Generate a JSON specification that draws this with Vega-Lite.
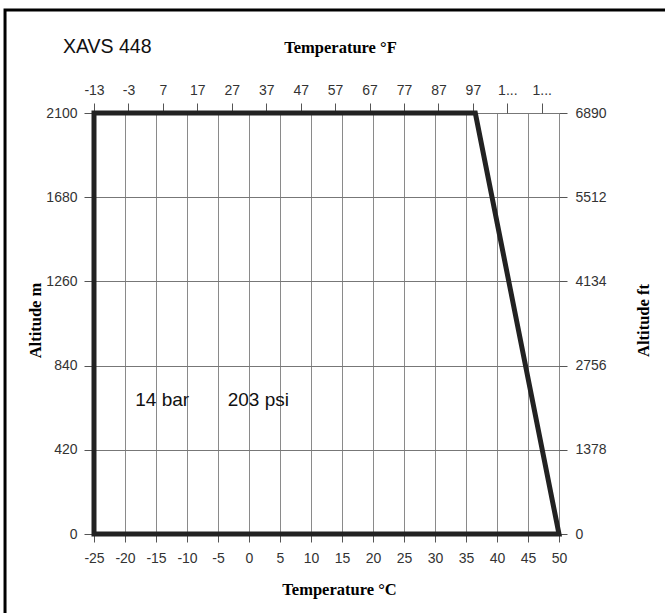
{
  "$schema": "https://vega.github.io/schema/vega-lite/v6.json",
  "autosize": {"type": "none"},
  "width": 465,
  "height": 421,
  "padding": {"left": 94, "top": 113, "right": 106, "bottom": 79},
  "background": "white",
  "title": {
    "text": "XAVS 448",
    "anchor": "start",
    "frame": "group",
    "font": "Liberation Sans",
    "fontSize": 19.5,
    "fontWeight": "normal",
    "color": "#111",
    "dx": -31,
    "dy": 53
  },
  "datasets": {
    "outline": [
      {"order": 0, "c": -25, "m": 0},
      {"order": 1, "c": -25, "m": 2100},
      {"order": 2, "c": 36.5, "m": 2100},
      {"order": 3, "c": 50, "m": 0},
      {"order": 4, "c": -25, "m": 0}
    ],
    "notes": [
      {"c": -14, "m": 668, "label": "14 bar"},
      {"c": 1.5, "m": 668, "label": "203 psi"}
    ],
    "imperial": [
      {"f": -13, "ft": 0},
      {"f": 122, "ft": 6890}
    ]
  },
  "config": {
    "view": {"stroke": null},
    "axis": {
      "labelFont": "Liberation Sans",
      "labelFontSize": 14,
      "labelColor": "#333",
      "tickColor": "#555",
      "labelOverlap": false,
      "labelFlush": false,
      "tickCount": 30,
      "labelExpr": "toString(datum.value)",
      "titleFont": "Liberation Serif",
      "titleFontSize": 16.5,
      "titleFontWeight": "bold",
      "titleColor": "#000",
      "domain": false
    }
  },
  "layer": [
    {
      "layer": [
        {
          "data": {"name": "outline"},
          "mark": {"type": "line", "color": "#222", "strokeWidth": 5, "strokeJoin": "miter", "strokeCap": "square"},
          "encoding": {
            "x": {
              "field": "c", "type": "quantitative",
              "scale": {"domain": [-25, 50], "nice": false, "zero": false},
              "axis": {
                "orient": "bottom",
                "values": [-25, -20, -15, -10, -5, 0, 5, 10, 15, 20, 25, 30, 35, 40, 45, 50],
                "tickCount": 30,
                "labelExpr": "toString(datum.value)",
                "labelOverlap": false,
                "labelFlush": false,
                "grid": true, "gridColor": "#8a8a8a", "gridWidth": 1,
                "tickSize": 8, "labelPadding": 9,
                "title": "Temperature °C",
                "titleX": 245, "titleY": 60, "titleBaseline": "alphabetic", "titleAlign": "center", "titleAnchor": null
              }
            },
            "y": {
              "field": "m", "type": "quantitative",
              "scale": {"domain": [0, 2100], "nice": false, "zero": false},
              "axis": {
                "orient": "left",
                "values": [0, 420, 840, 1260, 1680, 2100],
                "tickCount": 30,
                "labelExpr": "toString(datum.value)",
                "labelFlush": false,
                "grid": true, "gridColor": "#777", "gridWidth": 1,
                "tickSize": 10, "labelPadding": 7,
                "title": "Altitude m",
                "titleAngle": 270, "titleX": -54, "titleY": 207, "titleBaseline": "alphabetic", "titleAlign": "center", "titleAnchor": null
              }
            },
            "order": {"field": "order", "type": "quantitative"}
          }
        },
        {
          "data": {"name": "notes"},
          "mark": {"type": "text", "font": "Liberation Sans", "fontSize": 19, "color": "#111", "align": "center", "baseline": "middle"},
          "encoding": {
            "x": {"field": "c", "type": "quantitative"},
            "y": {"field": "m", "type": "quantitative"},
            "text": {"field": "label"}
          }
        },
        {
          "data": {"values": [{}]},
          "mark": {"type": "rect", "fill": null, "stroke": "#000", "strokeWidth": 3, "clip": false},
          "encoding": {
            "x": {"datum": -39.35, "type": "quantitative"},
            "x2": {"datum": 80},
            "y": {"datum": 2614, "type": "quantitative"},
            "y2": {"datum": -700}
          }
        }
      ]
    },
    {
      "data": {"name": "imperial"},
      "mark": {"type": "point", "opacity": 0},
      "encoding": {
        "x": {
          "field": "f", "type": "quantitative",
          "scale": {"domain": [-13, 122], "nice": false, "zero": false},
          "axis": {
            "orient": "top",
            "values": [-13, -3, 7, 17, 27, 37, 47, 57, 67, 77, 87, 97, 107, 117],
            "tickCount": 30,
            "labelExpr": "datum.value > 100 ? '1...' : toString(datum.value)",
            "labelOverlap": false,
            "labelFlush": false,
            "grid": false, "tickSize": 10, "labelPadding": 6,
            "title": "Temperature °F",
            "titleX": 246, "titleY": -61, "titleBaseline": "alphabetic", "titleAlign": "center", "titleAnchor": null
          }
        },
        "y": {
          "field": "ft", "type": "quantitative",
          "scale": {"domain": [0, 6890], "nice": false, "zero": false},
          "axis": {
            "orient": "right",
            "values": [0, 1378, 2756, 4134, 5512, 6890],
            "tickCount": 30,
            "labelExpr": "toString(datum.value)",
            "labelFlush": false,
            "grid": false, "tickSize": 8, "labelPadding": 8,
            "title": "Altitude ft",
            "titleAngle": 270, "titleX": 89, "titleY": 207, "titleBaseline": "alphabetic", "titleAlign": "center", "titleAnchor": null
          }
        }
      }
    }
  ],
  "resolve": {"scale": {"x": "independent", "y": "independent"}}
}
